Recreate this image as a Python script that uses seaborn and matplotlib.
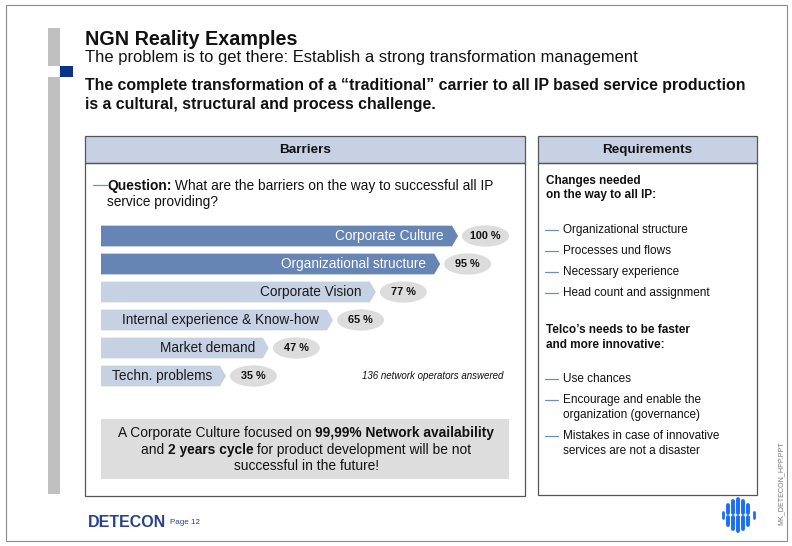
import matplotlib.pyplot as plt
from matplotlib.patches import Rectangle, Polygon, Ellipse
import seaborn as sns

# survey results (share of operators naming the barrier)
barriers = ["Corporate Culture", "Organizational structure", "Corporate Vision",
            "Internal experience & Know-how", "Market demand", "Techn. problems"]
shares = [100, 95, 77, 65, 47, 35]
share_labels = ["100 %", "95 %", "77 %", "65 %", "47 %", "35 %"]
top_barriers = ["Corporate Culture", "Organizational structure"]

changes_needed = ["Organizational structure", "Processes und flows",
                  "Necessary experience", "Head count and assignment"]
telco_needs = [["Use chances"],
               ["Encourage and enable the", "organization (governance)"],
               ["Mistakes in case of innovative", "services are not a disaster"]]

DARK_BAR = "#6684b4"
LIGHT_BAR = "#c6d1e3"
HEADER = "#c7d1e3"
PILL = "#dcdcdc"
NAVY = "#27408b"
DASH = "#6f8fc2"
EDGE = "#555555"

sns.set_theme(style="white")
plt.rcParams["font.family"] = ["Liberation Sans", "DejaVu Sans"]

W, H = 792, 546
fig = plt.figure(figsize=(W / 100, H / 100), dpi=100)
page = fig.add_axes([0, 0, 1, 1])
page.set_xlim(0, W)
page.set_ylim(H, 0)
page.axis("off")
renderer = fig.canvas.get_renderer()


def rich_line(x, y, parts, size, ha="left", color="#111111"):
    # draw a line made of normal/bold pieces, one unit == one pixel on the page
    texts, widths = [], []
    for s, weight in parts:
        t = page.text(0, y, s, fontsize=size, fontweight=weight, va="baseline",
                      ha="left", color=color)
        texts.append(t)
        widths.append(t.get_window_extent(renderer=renderer).width)
    start = x - sum(widths) / 2 if ha == "center" else x
    for t, w in zip(texts, widths):
        t.set_x(start)
        start += w


# slide frame and left decoration
page.add_patch(Rectangle((6, 5), 781, 536, fill=False, ec="#8c8c8c", lw=0.8))
page.add_patch(Rectangle((48, 28), 12, 38, fc="#c0c0c0", ec="none"))
page.add_patch(Rectangle((48, 77), 12, 417, fc="#c0c0c0", ec="none"))
page.add_patch(Rectangle((60, 66), 13, 11, fc="#0a3387", ec="none"))

# title block
page.text(85, 45, "NGN Reality Examples", fontsize=14.2, fontweight="bold", color="#111111")
page.text(85, 62, "The problem is to get there: Establish a strong transformation management",
          fontsize=11.9, color="#111111")
page.text(85, 90, "The complete transformation of a \u201ctraditional\u201d carrier to all IP based service production",
          fontsize=11.4, fontweight="bold", color="#111111")
page.text(85, 109, "is a cultural, structural and process challenge.",
          fontsize=11.4, fontweight="bold", color="#111111")

# panels
for x0, x1, title, bottom in [(85, 525, "Barriers", 496), (538, 757, "Requirements", 495)]:
    page.add_patch(Rectangle((x0, 136), x1 - x0, 27, fc=HEADER, ec=EDGE, lw=0.9))
    page.add_patch(Rectangle((x0, 163), x1 - x0, bottom - 163, fill=False, ec=EDGE, lw=0.9))
    page.text((x0 + x1) / 2, 150, title, fontsize=9.7, fontweight="bold",
              ha="center", va="center", color="#111111")

# question
page.plot([93, 107], [185, 185], color=DASH, lw=0.9)
rich_line(107, 190, [("Question:", "bold"),
                     (" What are the barriers on the way to successful all IP", "normal")], 9.9)
page.text(107, 206, "service providing?", fontsize=9.9, color="#111111")

# bar chart of barriers
px_per_pct = 3.57
bax = fig.add_axes([101 / W, 1 - 390 / H, 420 / W, 168 / H])
palette = {b: (DARK_BAR if b in top_barriers else LIGHT_BAR) for b in barriers}
sns.barplot(x=shares, y=barriers, hue=barriers, palette=palette, orient="h",
            width=0.74, saturation=1, legend=False, ax=bax)
bax.set_xlim(0, 420 / px_per_pct)
bax.set_ylim(len(barriers) - 0.5, -0.5)
bax.axis("off")

tip = 6 / px_per_pct
pill_w = 47 / px_per_pct
for patch in list(bax.patches):
    x0, y0 = patch.get_x(), patch.get_y()
    x1, y1 = x0 + patch.get_width(), y0 + patch.get_height()
    yc = (y0 + y1) / 2
    i = int(round(yc))
    color = patch.get_facecolor()
    patch.set_visible(False)
    bax.add_patch(Polygon([(x0, y0), (x1 - tip, y0), (x1, yc), (x1 - tip, y1), (x0, y1)],
                          closed=True, fc=color, ec="none"))
    txt_color = "white" if barriers[i] in top_barriers else "#1a1a1a"
    bax.text(x1 - 14 / px_per_pct, yc, barriers[i], ha="right", va="center",
             fontsize=9.8, color=txt_color)
    cx = x1 + 4 / px_per_pct + pill_w / 2
    bax.add_patch(Ellipse((cx, yc), pill_w, 0.76, fc=PILL, ec="none"))
    bax.text(cx, yc, share_labels[i], ha="center", va="center", fontsize=7.8,
             fontweight="bold", color="#111111")

page.text(503, 376, "136 network operators answered", fontsize=7, style="italic",
          ha="right", va="center", color="#111111")

# conclusion box
page.add_patch(Rectangle((101, 419), 408, 60, fc="#dddddd", ec="none"))
rich_line(306, 437, [("A Corporate Culture focused on ", "normal"),
                     ("99,99% Network availability", "bold")], 9.9, ha="center")
rich_line(306, 454, [("and ", "normal"), ("2 years cycle", "bold"),
                     (" for product development will be not", "normal")], 9.9, ha="center")
rich_line(306, 470.5, [("successful in the future!", "normal")], 9.9, ha="center")

# requirements
page.text(546, 184, "Changes needed", fontsize=8.5, fontweight="bold", color="#111111")
page.text(546, 198, "on the way to all IP:", fontsize=8.5, fontweight="bold", color="#111111")
for y, item in zip([230, 251, 272, 293], changes_needed):
    page.plot([545, 558], [y, y], color=DASH, lw=0.9)
    page.text(563, y, item, fontsize=8.5, va="center", color="#111111")

page.text(546, 333, "Telco\u2019s needs to be faster", fontsize=8.5, fontweight="bold", color="#111111")
page.text(546, 348, "and more innovative:", fontsize=8.5, fontweight="bold", color="#111111")
for y, lines in zip([379, 400, 436], telco_needs):
    page.plot([545, 558], [y, y], color=DASH, lw=0.9)
    for k, line in enumerate(lines):
        page.text(563, y + 15 * k, line, fontsize=8.5, va="center", color="#111111")

# footer
page.text(88, 527, "DETECON", fontsize=11.5, fontweight="bold", color=NAVY)
page.text(170, 524, "Page 12", fontsize=5.8, color=NAVY)
page.text(781, 483, "MK_DETECON_HPP.PPT", fontsize=5.1, rotation=90,
          ha="center", va="center", color="#777777")

# round logo made of vertical strokes
lx, ly = 738, 515
for dx, h in [(-10, 10), (-5, 14), (0, 16), (5, 14), (10, 10)]:
    page.plot([lx + dx, lx + dx], [ly - h, ly - 2], color="#1a6ef5", lw=2.8, solid_capstyle="round")
    page.plot([lx + dx, lx + dx], [ly + 2, ly + h], color="#1a6ef5", lw=2.8, solid_capstyle="round")
for dx in (-15.5, 15.5):
    page.plot([lx + dx, lx + dx], [ly - 3, ly + 3], color="#1a6ef5", lw=2, solid_capstyle="round")

fig.savefig("out.png", dpi=100)
